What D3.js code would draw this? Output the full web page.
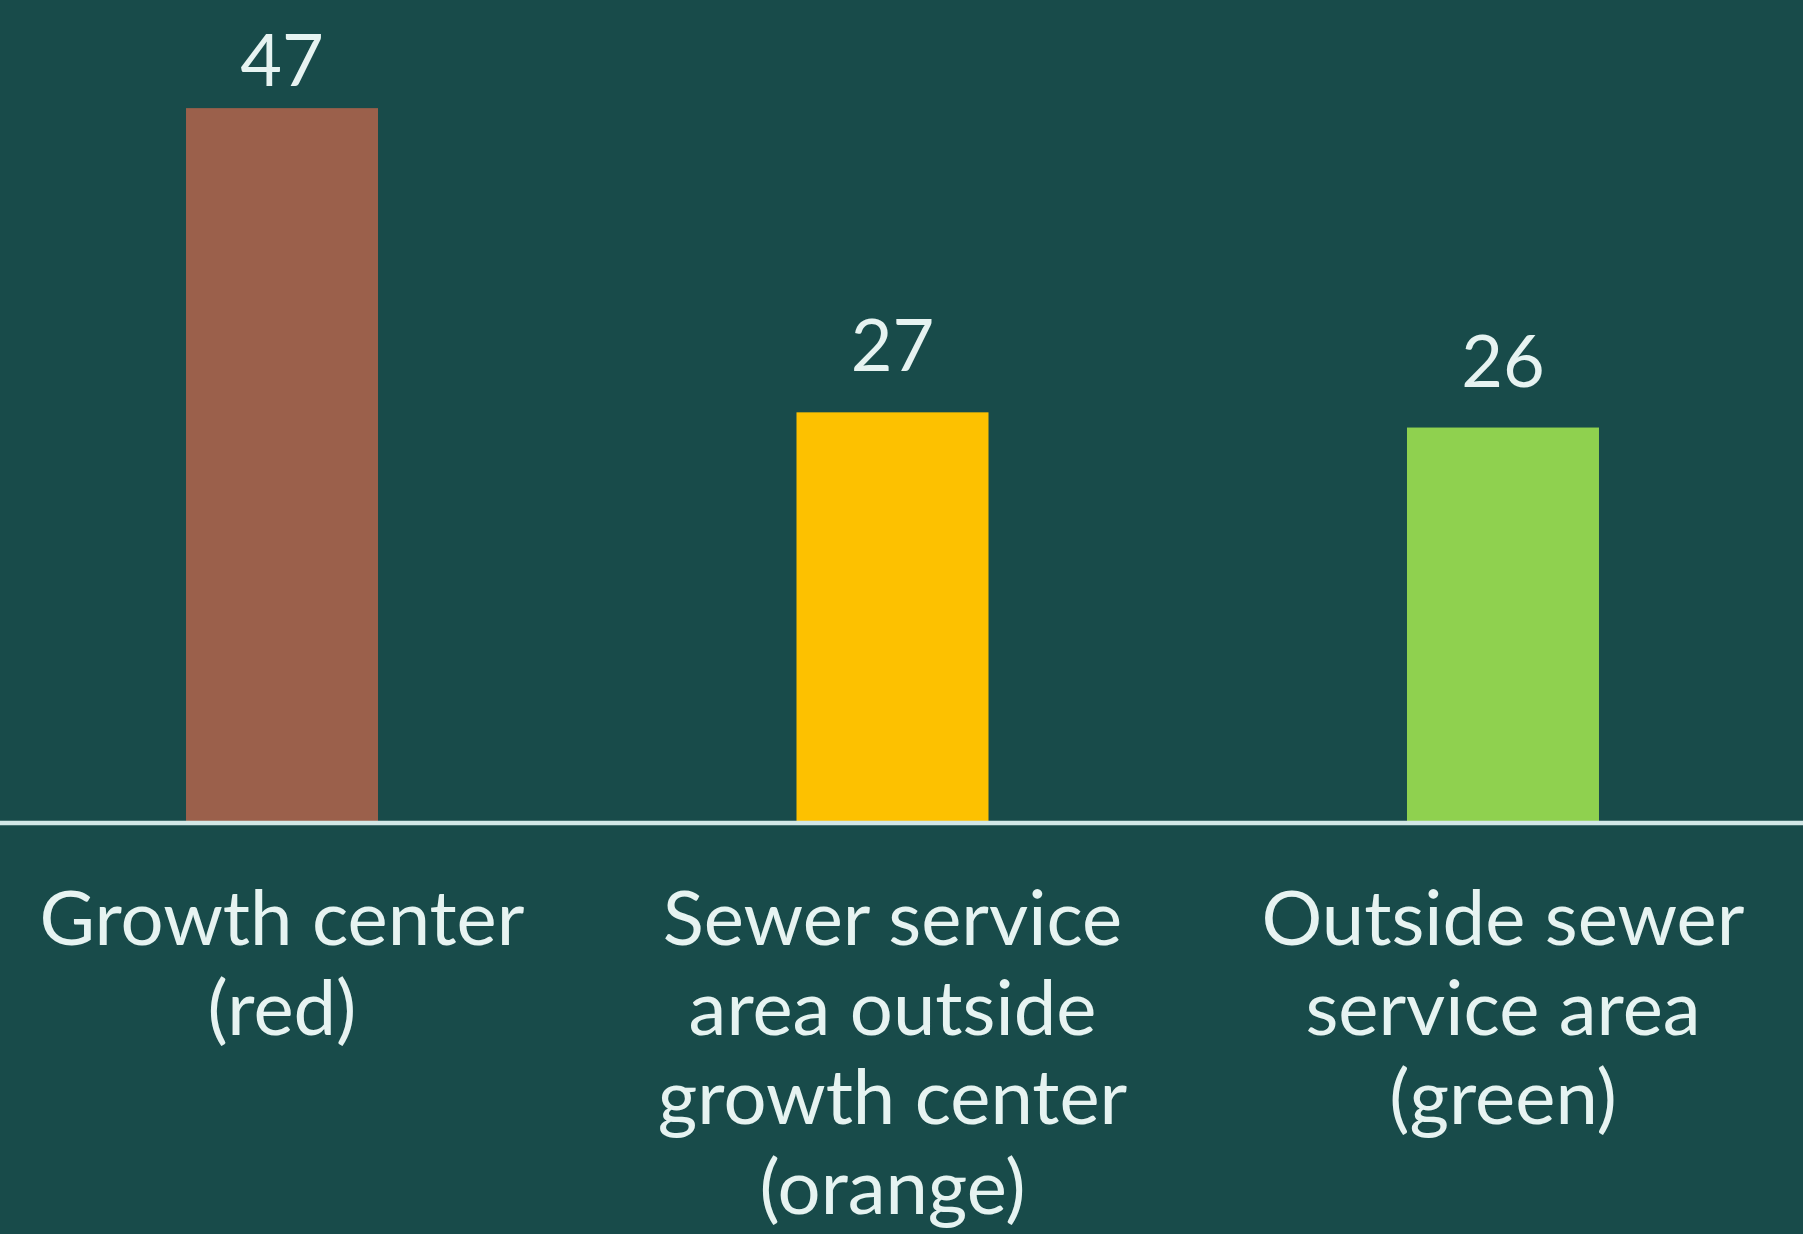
<!DOCTYPE html>
<html>
<head>
<meta charset="utf-8">
<script src="https://cdn.jsdelivr.net/npm/d3@7"></script>
<style>
  html, body { margin: 0; padding: 0; background: #184b4a; }
  svg { display: block; }
</style>
</head>
<body>
<svg id="chart" width="1803" height="1234"></svg>
<script>
// Share of development by area type
const categories = [
  ["Growth center", "(red)"],
  ["Sewer service", "area outside", "growth center", "(orange)"],
  ["Outside sewer", "service area", "(green)"]
];
const values = [47, 27, 26];
const barColors = ["#9b604b", "#fdc100", "#8fd14f"];

const W = 1803, H = 1234;
const baseline = 823;
const textColor = "#e6f3f1";

const svg = d3.select("#chart");

svg.append("rect")
  .attr("width", W).attr("height", H)
  .attr("fill", "#184b4a");

const x = d3.scaleBand()
  .domain(d3.range(values.length))
  .range([0, 1785])
  .paddingInner(0.6855)
  .paddingOuter(0.3047);

const y = d3.scaleLinear()
  .domain([0, 50])
  .range([baseline, baseline - 50 * 15.21]);

// bars
svg.append("g")
  .selectAll("rect")
  .data(values)
  .join("rect")
  .attr("x", (d, i) => x(i))
  .attr("width", x.bandwidth())
  .attr("y", d => y(d))
  .attr("height", d => y(0) - y(d))
  .attr("fill", (d, i) => barColors[i]);

// value labels, kept inside the top margin
svg.append("g")
  .selectAll("text")
  .data(values)
  .join("text")
  .attr("x", (d, i) => x(i) + x.bandwidth() / 2)
  .attr("y", d => Math.max(y(d) - 41, 86))
  .attr("text-anchor", "middle")
  .attr("font-family", "Lato, 'Open Sans', sans-serif")
  .attr("font-size", 72)
  .attr("fill", textColor)
  .text(d => d);

// baseline axis line
const xAxis = d3.axisBottom(x).tickSize(0).tickFormat("");
const axisG = svg.append("g")
  .attr("transform", `translate(0,${baseline})`)
  .call(xAxis);
axisG.select(".domain").remove();
axisG.append("line")
  .attr("x1", 0).attr("x2", W)
  .attr("y1", 0).attr("y2", 0)
  .attr("stroke", "#d2e7e6")
  .attr("stroke-width", 4.5);

// category labels, multi-line
const lineGap = 89.7;
const catG = svg.append("g");
categories.forEach((lines, i) => {
  const t = catG.append("text")
    .attr("text-anchor", "middle")
    .attr("font-family", "Lato, 'Open Sans', sans-serif")
    .attr("font-size", 76)
    .attr("fill", textColor);
  lines.forEach((ln, j) => {
    t.append("tspan")
      .attr("x", x(i) + x.bandwidth() / 2)
      .attr("y", 945 + j * lineGap)
      .text(ln);
  });
});
</script>
</body>
</html>
